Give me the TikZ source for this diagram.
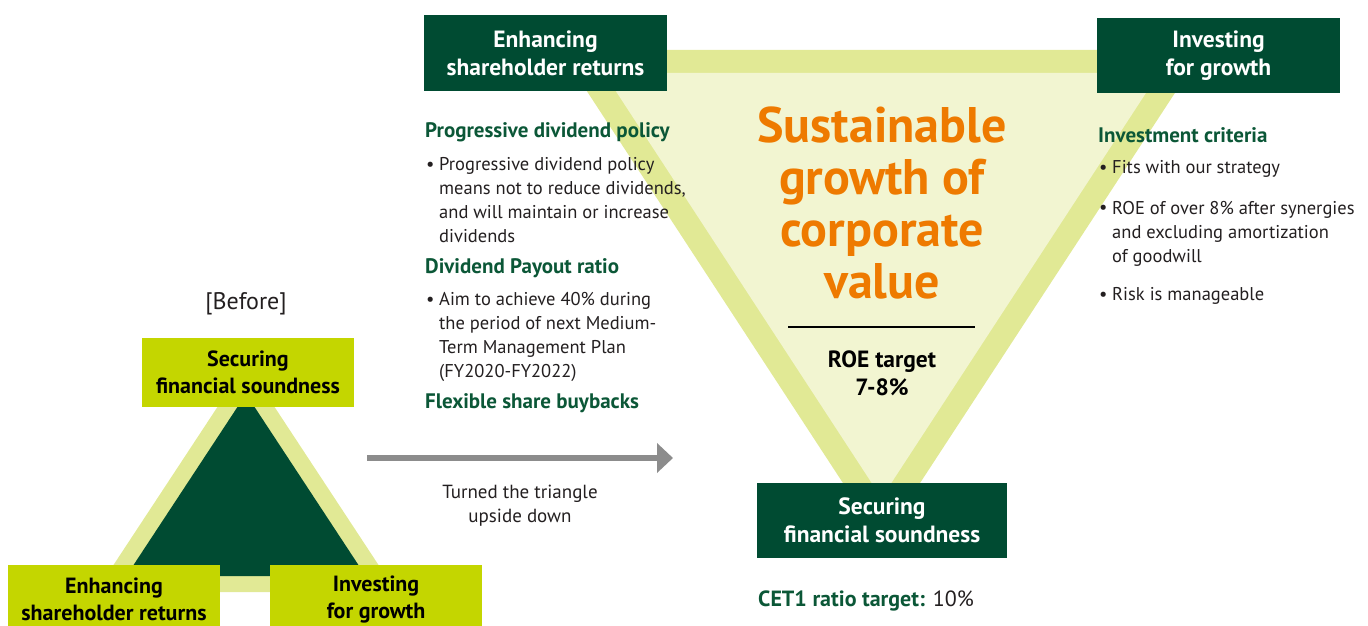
\documentclass[tikz,border=0pt]{standalone}
\usepackage{fontspec}
\setmainfont{PT Sans}
\usetikzlibrary{arrows.meta}
\definecolor{dkgreen}{HTML}{004B32}
\definecolor{hdgreen}{HTML}{0B5737}
\definecolor{lime}{HTML}{C4D600}
\definecolor{band}{HTML}{E1E995}
\definecolor{pale}{HTML}{F2F5D1}
\definecolor{goalorange}{HTML}{EE7A00}
\definecolor{arrgray}{HTML}{8C8C8C}
\definecolor{bodyink}{HTML}{231F20}
\tikzset{
  darkbox/.style={rectangle,fill=dkgreen,text=white,inner sep=0pt,align=center,
    font=\bfseries\fontsize{23.5}{28}\selectfont},
  limebox/.style={darkbox,fill=lime,text=black,font=\bfseries\fontsize{22}{26.5}\selectfont},
  headtxt/.style={anchor=base west,inner sep=0pt,text=hdgreen,font=\bfseries\fontsize{21}{24}\selectfont},
  bodytxt/.style={anchor=base west,inner sep=0pt,align=left,text=bodyink,font=\fontsize{18.5}{24}\selectfont},
  dotmark/.style={bodytxt},
  turnarrow/.style={-{Triangle[length=16pt,width=29pt]},line width=6pt,draw=arrgray},
}

\begin{document}
\begin{tikzpicture}[x=1pt,y=-1pt]
  \useasboundingbox (0,0) rectangle (1368,626);
  % before: upright triangle
  \fill[band] (246,363.6) -- (95.7,592) -- (396.3,592) -- cycle;
  \fill[dkgreen] (246,394) -- (126.3,576) -- (365.7,576) -- cycle;
  \node[limebox,minimum width=212,minimum height=69] (bSec) at (248,372.5) {Securing\\financial soundness};
  \node[limebox,minimum width=212,minimum height=69] (bEnh) at (114,599.5) {Enhancing\\shareholder returns};
  \node[limebox,minimum width=212,minimum height=69] (bInv) at (376,599.5) {Investing\\for growth};
  \node[anchor=base,inner sep=0pt,text=bodyink,font=\fontsize{24}{26}\selectfont] (bfr) at (246,309) {[Before]};

  % turning arrow
  \coordinate (arrL) at (367,458);
  \coordinate (arrR) at (673,458);
  \draw[turnarrow] (arrL) -- (arrR);
  \node[anchor=base,inner sep=0pt,align=center,text=bodyink,font=\fontsize{19}{24}\selectfont] (turn) at (520,522)
    {Turned the triangle\\upside down};

  % after: inverted triangle
  \fill[band] (560,50) -- (1203,50) -- (881.5,542) -- cycle;
  \fill[pale] (604,73) -- (1159,73) -- (881.5,498) -- cycle;
  \node[darkbox,minimum width=243,minimum height=76] (aEnh) at (545.5,53) {Enhancing\\shareholder returns};
  \node[darkbox,minimum width=243,minimum height=75] (aInv) at (1218.5,55.5) {Investing\\for growth};
  \node[darkbox,minimum width=250,minimum height=75] (aSec) at (882,520.5) {Securing\\financial soundness};

  \node[anchor=base,inner sep=0pt,align=center,text=goalorange,font=\bfseries\fontsize{50}{52}\selectfont] (goal) at (882,298)
    {Sustainable\\growth of\\corporate\\value};
  \coordinate (ruleL) at (788,327);
  \coordinate (ruleR) at (975,327);
  \draw[line width=2.5pt,black] (ruleL) -- (ruleR);
  \node[anchor=base,inner sep=0pt,align=center,font=\bfseries\fontsize{23.5}{28}\selectfont] (roe) at (882,395) {ROE target\\7-8\%};
  \node[anchor=base west,inner sep=0pt,text=bodyink,font=\fontsize{22}{26}\selectfont] (cet) at (758,606)
    {{\bfseries\color{hdgreen}CET1 ratio target:} 10\%};

  % shareholder returns column
  \node[headtxt] (h1) at (425,137) {Progressive dividend policy};
  \node[dotmark] (d1) at (426,170) {•};
  \node[bodytxt] (t1) at (439,242) {Progressive dividend policy\\means not to reduce dividends,\\and will maintain or increase\\dividends};
  \node[headtxt] (h2) at (425,273) {Dividend Payout ratio};
  \node[dotmark] (d2) at (426,305) {•};
  \node[bodytxt] (t2) at (439,377) {Aim to achieve 40\% during\\the period of next Medium-\\Term Management Plan\\(FY2020-FY2022)};
  \node[headtxt] (h3) at (425,408) {Flexible share buybacks};

  % growth column
  \node[headtxt] (h4) at (1098,142) {Investment criteria};
  \node[dotmark] (d4) at (1099,173) {•};
  \node[bodytxt] (t4) at (1112,173) {Fits with our strategy};
  \node[dotmark] (d5) at (1099,213) {•};
  \node[bodytxt] (t5) at (1112,262) {ROE of over 8\% after synergies\\and excluding amortization\\of goodwill};
  \node[dotmark] (d6) at (1099,300) {•};
  \node[bodytxt] (t6) at (1112,300) {Risk is manageable};
\end{tikzpicture}
\end{document}
